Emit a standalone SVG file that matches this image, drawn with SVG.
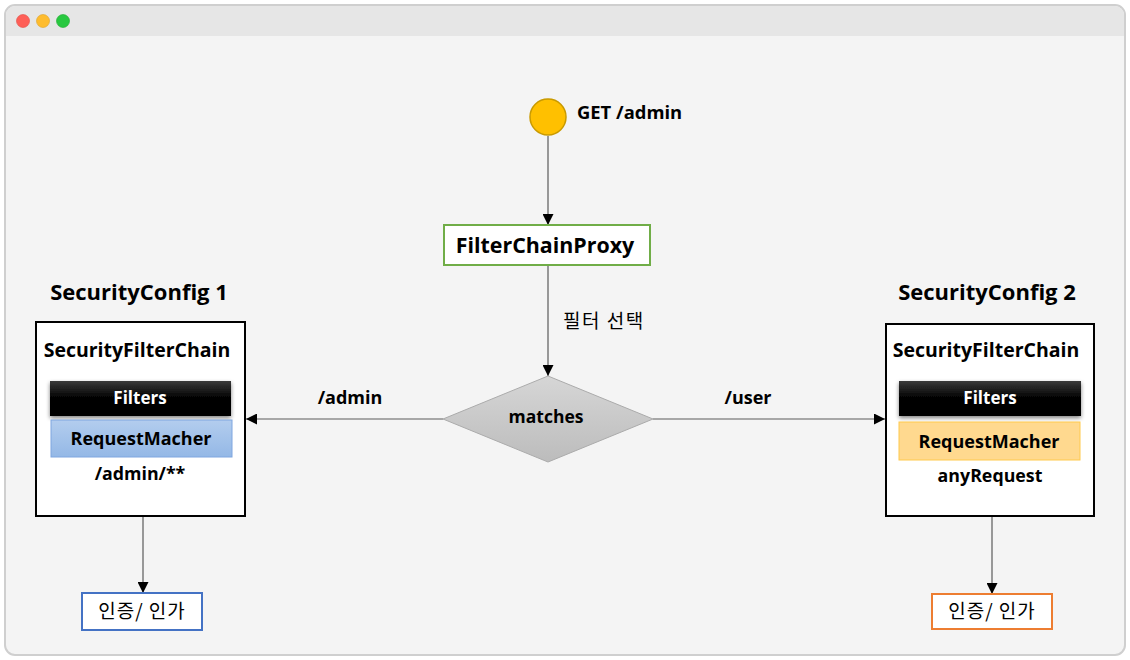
<svg xmlns="http://www.w3.org/2000/svg" width="1130" height="660" viewBox="0 0 1130 660">
<defs>
<style>
.t{font-family:"Open Sans","Noto Sans","Noto Sans CJK KR",sans-serif;fill:#000;text-anchor:middle}
.b{font-weight:bold}
.k{font-family:"Noto Sans CJK KR","Noto Sans",sans-serif;fill:#000;font-size:19px}
.conn{stroke:#5a5a5a;stroke-width:1.2;fill:none}
</style>
<marker id="arr" viewBox="0 0 10 10" refX="10" refY="5" markerWidth="11" markerHeight="11" markerUnits="userSpaceOnUse" orient="auto">
<path d="M0,0 L10,5 L0,10 z" fill="#000"/>
</marker>
<linearGradient id="blk" x1="0" y1="0" x2="0" y2="1">
<stop offset="0" stop-color="#3a3a3a"/><stop offset="0.5" stop-color="#000"/><stop offset="1" stop-color="#000"/>
</linearGradient>
<linearGradient id="gry" x1="0" y1="0" x2="0" y2="1">
<stop offset="0" stop-color="#d6d6d6"/><stop offset="1" stop-color="#bcbcbc"/>
</linearGradient>
<linearGradient id="blu" x1="0" y1="0" x2="0" y2="1">
<stop offset="0" stop-color="#b3cdee"/><stop offset="1" stop-color="#94b8e6"/>
</linearGradient>
<filter id="sh" x="-10%" y="-30%" width="120%" height="160%">
<feGaussianBlur in="SourceAlpha" stdDeviation="2"/><feOffset dx="0" dy="2"/>
<feComponentTransfer><feFuncA type="linear" slope="0.5"/></feComponentTransfer>
<feMerge><feMergeNode/><feMergeNode in="SourceGraphic"/></feMerge>
</filter>
</defs>
<rect width="1130" height="660" fill="#fff"/>
<g id="window">
<rect x="5" y="5" width="1120" height="650" rx="10" fill="#f4f4f4" stroke="#cfcfcf" stroke-width="2"/>
<path d="M6,36 V15 A9,9 0 0 1 15,6 H1115 A9,9 0 0 1 1124,15 V36 Z" fill="#e6e6e6"/>
<circle cx="23" cy="21" r="6.5" fill="#fe5f57" stroke="#e14942" stroke-width="0.6"/>
<circle cx="43" cy="21" r="6.5" fill="#febc2e" stroke="#dea123" stroke-width="0.6"/>
<circle cx="63" cy="21" r="6.5" fill="#28c840" stroke="#1daa2c" stroke-width="0.6"/>
</g>
<g id="connectors">
<line class="conn" x1="548" y1="136" x2="548" y2="225" marker-end="url(#arr)"/>
<line class="conn" x1="548" y1="265" x2="548" y2="376" marker-end="url(#arr)"/>
<text class="k" x="563" y="328" letter-spacing="1.5">필터 선택</text>
<line class="conn" x1="443" y1="419" x2="246" y2="419" marker-end="url(#arr)"/>
<text class="t b" x="350" y="404" font-size="18">/admin</text>
<line class="conn" x1="653" y1="419" x2="885" y2="419" marker-end="url(#arr)"/>
<text class="t b" x="748" y="404" font-size="18">/user</text>
<line class="conn" x1="143" y1="516" x2="143" y2="593" marker-end="url(#arr)"/>
<line class="conn" x1="992" y1="516" x2="992" y2="594" marker-end="url(#arr)"/>
</g>
<g id="start">
<circle cx="548" cy="117" r="18" fill="#ffc000" stroke="#c99a00" stroke-width="1.5"/>
<text class="t b" x="577" y="119" font-size="18.4" style="text-anchor:start">GET /admin</text>
</g>
<g id="proxy">
<rect x="444" y="225" width="206" height="40" fill="#fff" stroke="#70ad47" stroke-width="2"/>
<text class="t b" x="545" y="253" font-size="21.4">FilterChainProxy</text>
</g>
<g id="matches">
<polygon points="548,376 653,419 548,462 443,419" fill="url(#gry)" stroke="#ababab" stroke-width="1"/>
<text class="t b" x="546" y="423" font-size="17.5">matches</text>
</g>
<g id="config1">
<text class="t b" x="139" y="300" font-size="22">SecurityConfig 1</text>
<rect x="36" y="322" width="209" height="194" fill="#fff" stroke="#000" stroke-width="2"/>
<text class="t b" x="137" y="357" font-size="19.5">SecurityFilterChain</text>
<rect x="50" y="381" width="181" height="35" fill="url(#blk)" filter="url(#sh)"/>
<text class="t b" x="140" y="404" font-size="17" style="fill:#fff">Filters</text>
<rect x="51" y="420" width="181" height="37" fill="url(#blu)" stroke="#7ea6e0" stroke-width="1"/>
<text class="t b" x="141" y="445" font-size="18">RequestMacher</text>
<text class="t b" x="140" y="480" font-size="17.8">/admin/**</text>
</g>
<g id="config2">
<text class="t b" x="987" y="300" font-size="22">SecurityConfig 2</text>
<rect x="886" y="324" width="208" height="192" fill="#fff" stroke="#000" stroke-width="2"/>
<text class="t b" x="986" y="357" font-size="19.5">SecurityFilterChain</text>
<rect x="899" y="381" width="182" height="35" fill="url(#blk)" filter="url(#sh)"/>
<text class="t b" x="990" y="404" font-size="17" style="fill:#fff">Filters</text>
<rect x="899" y="422" width="181" height="38" fill="#ffd98f" stroke="#ffc94d" stroke-width="1"/>
<text class="t b" x="989" y="448" font-size="18">RequestMacher</text>
<text class="t b" x="990" y="482" font-size="17.8">anyRequest</text>
</g>
<g id="auth1">
<rect x="82" y="593" width="120" height="37" fill="#fff" stroke="#4472c4" stroke-width="2"/>
<text class="k" x="142" y="618" text-anchor="middle" letter-spacing="1">인증/ 인가</text>
</g>
<g id="auth2">
<rect x="932" y="594" width="120" height="35" fill="#fff" stroke="#ed7d31" stroke-width="2"/>
<text class="k" x="992" y="618" text-anchor="middle" letter-spacing="1">인증/ 인가</text>
</g>
</svg>
